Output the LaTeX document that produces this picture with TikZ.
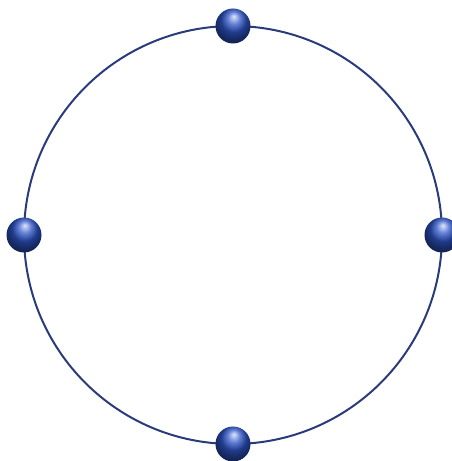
\documentclass[tikz,border=0pt]{standalone}
\usepackage{xcolor}
\usepackage{tikz}
\usetikzlibrary{positioning,calc}
\definecolor{ringline}{HTML}{2A3B7C}
\definecolor{beadblue}{HTML}{2E55C8}
\tikzset{
  ring/.style={draw=ringline,line width=2pt},
  bead/.style={circle,minimum size=35pt,inner sep=0pt,shading=ball,ball color=beadblue,shading angle=-50},
}
\begin{document}
\begin{tikzpicture}[x=1pt,y=1pt]
    \useasboundingbox (0,0) rectangle (452,461);
    \coordinate (c) at (233,226);
    \draw[ring] (c) circle (209);
    \foreach \a/\n in {90/top,180/left,0/right,270/bottom} {
      \node[bead] (\n) at ($(c)+(\a:209)$) {};
    }
  \end{tikzpicture}
\end{document}
